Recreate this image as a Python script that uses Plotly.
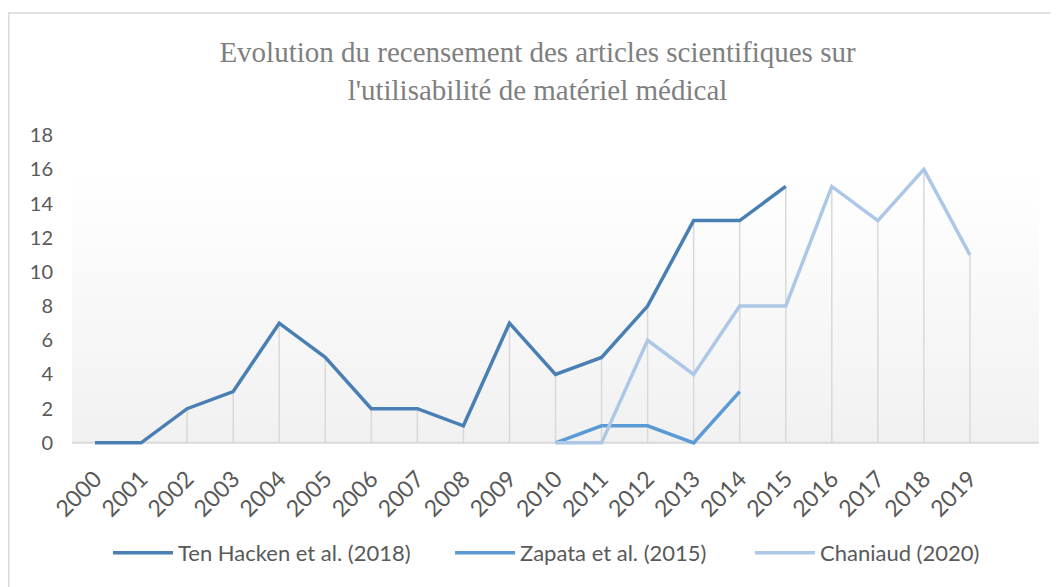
import plotly.graph_objects as go

years = list(range(2000, 2020))
ten_hacken_years = list(range(2000, 2016))
ten_hacken = [0, 0, 2, 3, 7, 5, 2, 2, 1, 7, 4, 5, 8, 13, 13, 15]
zapata_years = list(range(2010, 2015))
zapata = [0, 1, 1, 0, 3]
chaniaud_years = list(range(2010, 2020))
chaniaud = [0, 0, 6, 4, 8, 8, 15, 13, 16, 11]
tick_labels = [str(y) for y in years]

series = [
    ("Ten Hacken et al. (2018)", ten_hacken_years, ten_hacken, "#4a7fb4", "legend"),
    ("Zapata et al. (2015)", zapata_years, zapata, "#5b9bd5", "legend2"),
    ("Chaniaud (2020)", chaniaud_years, chaniaud, "#adc8e7", "legend3"),
]

# drop lines: from axis to highest point at each year
top = {}
for _, xs, ys, _, _ in series:
    for x, y in zip(xs, ys):
        top[x] = max(top.get(x, 0), y)
drop_x, drop_y = [], []
for x in years:
    if x in top and top[x] > 0:
        drop_x += [x, x, None]
        drop_y += [0, top[x], None]

fig = go.Figure()

# plot area gradient background
fig.add_trace(go.Scatter(
    x=[1999.5, 2020.5, 2020.5, 1999.5, 1999.5], y=[0, 0, 15.7, 15.7, 0],
    fill="toself", mode="none",
    fillgradient=dict(type="vertical", colorscale=[[0, "#f1f1f1"], [1, "#ffffff"]]),
    showlegend=False, hoverinfo="skip"))

# category axis line
fig.add_trace(go.Scatter(
    x=[1999.5, 2020.5], y=[0, 0], mode="lines",
    line=dict(color="#d9d9d9", width=2), showlegend=False, hoverinfo="skip"))

# drop lines
fig.add_trace(go.Scatter(
    x=drop_x, y=drop_y, mode="lines",
    line=dict(color="#d9d9d9", width=1.5), showlegend=False, hoverinfo="skip"))

for name, xs, ys, color, lg in series:
    fig.add_trace(go.Scatter(
        x=xs, y=ys, mode="lines", name=name, legend=lg,
        line=dict(color=color, width=3.5)))

PL, PW, PB, PH = 64, 967, 440, 318  # plot area in figure pixels


def px_x(v):
    return (v - PL) / PW


def px_y(v):
    return (PB - v) / PH


leg_common = dict(orientation="h", xanchor="left", yanchor="middle", y=px_y(545),
                  itemwidth=60, bgcolor="rgba(0,0,0,0)",
                  font=dict(family="Lato", size=22, color="#595959"))

fig.update_layout(
    width=1059, height=587,
    margin=dict(l=64, r=28, t=122, b=147),
    paper_bgcolor="white", plot_bgcolor="rgba(0,0,0,0)",
    title=dict(
        text="Evolution du recensement des articles scientifiques sur<br>l'utilisabilité de matériel médical",
        x=0.5, xanchor="center", y=1 - 54 / 587, yanchor="middle",
        font=dict(family="Liberation Serif", size=29, color="#7f7f7f")),
    font=dict(family="Lato", size=20, color="#595959"),
    legend=dict(x=px_x(100), **leg_common),
    legend2=dict(x=px_x(442), **leg_common),
    legend3=dict(x=px_x(742), **leg_common),
    xaxis=dict(range=[1999.5, 2020.5], tickmode="array", tickvals=years, ticktext=tick_labels,
               tickangle=-45, showgrid=False, zeroline=False, showline=False, ticks="",
               ticklabelstandoff=12,
               tickfont=dict(family="Lato", size=23, color="#595959")),
    yaxis=dict(range=[-0.3, 18.3], tickmode="array", tickvals=list(range(0, 19, 2)),
               showgrid=False, zeroline=False, showline=False, ticks="",
               ticklabelstandoff=18,
               tickfont=dict(family="Lato", size=20, color="#595959")),
    shapes=[dict(type="rect", xref="paper", yref="paper",
                 x0=px_x(0.75), x1=px_x(1070),
                 y0=px_y(600), y1=px_y(5),
                 line=dict(color="#d9d9d9", width=1.5), fillcolor="rgba(0,0,0,0)", layer="below")],
)

fig.write_html("out.html")
